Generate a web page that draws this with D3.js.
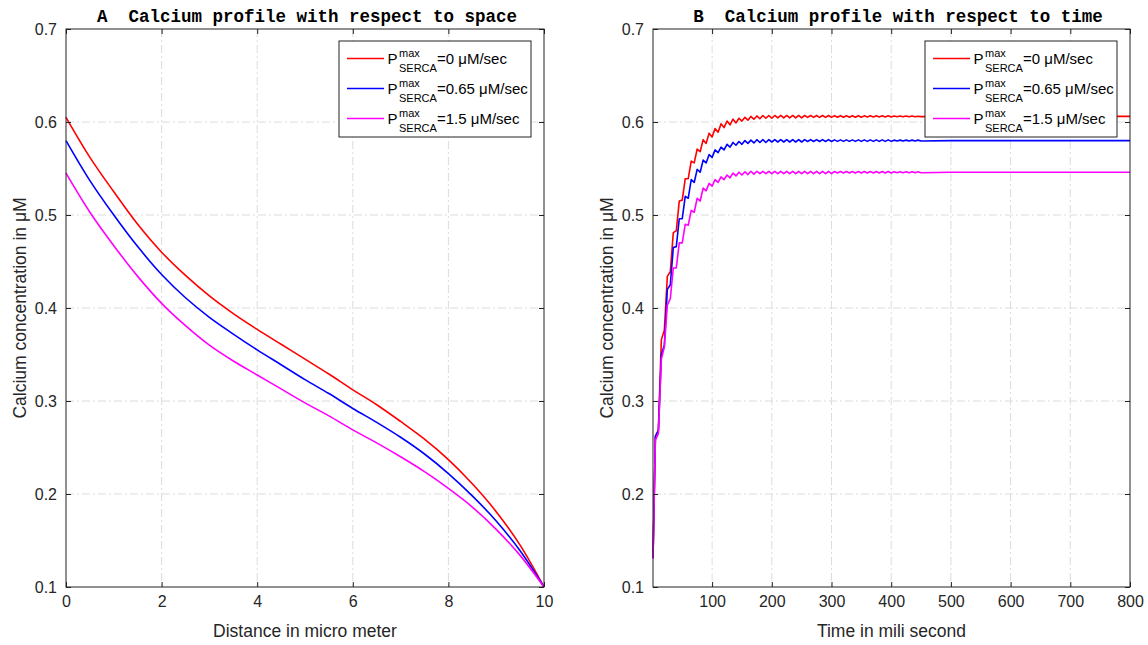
<!DOCTYPE html>
<html>
<head>
<meta charset="utf-8">
<script src="https://cdn.jsdelivr.net/npm/d3@7"></script>
<style>
  body { margin: 0; background: #fff; }
</style>
</head>
<body>
<script>
// ---- panel A: calcium vs distance ----
var distA = [0, 0.5, 1, 1.5, 2, 2.5, 3, 3.5, 4, 4.5, 5, 5.5, 6, 6.5, 7, 7.5, 8, 8.5, 9, 9.5, 10];
var redA = [0.605, 0.562, 0.525, 0.490, 0.460, 0.435, 0.413, 0.394, 0.377, 0.361, 0.345,
            0.329, 0.312, 0.296, 0.278, 0.259, 0.237, 0.211, 0.181, 0.145, 0.100];
var blueA = [0.580, 0.537, 0.500, 0.466, 0.436, 0.411, 0.390, 0.372, 0.355, 0.339, 0.323,
             0.308, 0.292, 0.277, 0.261, 0.243, 0.222, 0.198, 0.171, 0.139, 0.100];
var magentaA = [0.545, 0.503, 0.467, 0.434, 0.405, 0.381, 0.360, 0.343, 0.328, 0.313, 0.298,
                0.284, 0.269, 0.255, 0.240, 0.224, 0.206, 0.186, 0.162, 0.134, 0.100];

// ---- panel B: calcium vs time ----
var timeB = [1,
  5, 10, 15, 20, 25, 30, 35, 40, 45, 50,
  55, 60, 65, 70, 75, 80, 85, 90, 95, 100,
  105, 110, 115, 120, 125, 130, 135, 140, 145, 150,
  155, 160, 165, 170, 175, 180, 185, 190, 195, 200,
  205, 210, 215, 220, 225, 230, 235, 240, 245, 250,
  255, 260, 265, 270, 275, 280, 285, 290, 295, 300,
  305, 310, 315, 320, 325, 330, 335, 340, 345, 350,
  355, 360, 365, 370, 375, 380, 385, 390, 395, 400,
  405, 410, 415, 420, 425, 430, 435, 440, 445, 450,
  500, 600, 700, 800];
var redB = [0.131,
  0.262, 0.269, 0.366, 0.376, 0.434, 0.439, 0.481, 0.483, 0.515, 0.516,
  0.539, 0.539, 0.558, 0.556, 0.571, 0.568, 0.581, 0.577, 0.588, 0.584,
  0.593, 0.589, 0.598, 0.594, 0.601, 0.597, 0.603, 0.599, 0.604, 0.601,
  0.605, 0.602, 0.606, 0.603, 0.6065, 0.6035, 0.607, 0.604, 0.607, 0.604,
  0.607, 0.6045, 0.607, 0.6045, 0.607, 0.6045, 0.607, 0.6045, 0.607, 0.6045,
  0.607, 0.605, 0.607, 0.605, 0.607, 0.605, 0.607, 0.605, 0.607, 0.605,
  0.6068, 0.6052, 0.6068, 0.6052, 0.6068, 0.6052, 0.6068, 0.6052, 0.6068, 0.6052,
  0.6066, 0.6054, 0.6066, 0.6054, 0.6066, 0.6054, 0.6066, 0.6054, 0.6066, 0.6054,
  0.6064, 0.6056, 0.6064, 0.6056, 0.6064, 0.6056, 0.6064, 0.6056, 0.6062, 0.6058,
  0.606, 0.606, 0.606, 0.606];
var blueB = [0.131,
  0.262, 0.268, 0.350, 0.360, 0.420, 0.425, 0.465, 0.466, 0.496, 0.496,
  0.520, 0.518, 0.538, 0.535, 0.549, 0.546, 0.559, 0.556, 0.565, 0.562,
  0.570, 0.567, 0.573, 0.570, 0.576, 0.573, 0.578, 0.575, 0.579, 0.576,
  0.580, 0.577, 0.5805, 0.5775, 0.581, 0.578, 0.581, 0.578, 0.581, 0.5785,
  0.581, 0.5785, 0.581, 0.5785, 0.581, 0.5785, 0.581, 0.5785, 0.581, 0.5785,
  0.581, 0.579, 0.581, 0.579, 0.581, 0.579, 0.581, 0.579, 0.581, 0.579,
  0.5808, 0.5792, 0.5808, 0.5792, 0.5808, 0.5792, 0.5808, 0.5792, 0.5808, 0.5792,
  0.5808, 0.5792, 0.5808, 0.5792, 0.5808, 0.5792, 0.5808, 0.5792, 0.5808, 0.5792,
  0.5805, 0.5795, 0.5805, 0.5795, 0.5805, 0.5795, 0.5805, 0.5795, 0.5805, 0.5795,
  0.580, 0.580, 0.580, 0.580];
var magentaB = [0.131,
  0.258, 0.265, 0.345, 0.358, 0.403, 0.410, 0.443, 0.443, 0.470, 0.470,
  0.490, 0.489, 0.505, 0.503, 0.518, 0.515, 0.529, 0.526, 0.534, 0.531,
  0.538, 0.535, 0.541, 0.538, 0.543, 0.540, 0.545, 0.542, 0.546, 0.543,
  0.5465, 0.5435, 0.547, 0.544, 0.547, 0.5445, 0.547, 0.5445, 0.547, 0.5445,
  0.547, 0.5445, 0.547, 0.5445, 0.547, 0.5445, 0.547, 0.5445, 0.547, 0.5445,
  0.547, 0.5445, 0.547, 0.5445, 0.547, 0.5445, 0.547, 0.5445, 0.547, 0.5445,
  0.5468, 0.5452, 0.5468, 0.5452, 0.5468, 0.5452, 0.5468, 0.5452, 0.5468, 0.5452,
  0.5468, 0.5452, 0.5468, 0.5452, 0.5468, 0.5452, 0.5468, 0.5452, 0.5468, 0.5452,
  0.5465, 0.5455, 0.5465, 0.5455, 0.5465, 0.5455, 0.5465, 0.5455, 0.5465, 0.5455,
  0.546, 0.546, 0.546, 0.546];

var legendValues = ["=0 \u03bcM/sec", "=0.65 \u03bcM/sec", "=1.5 \u03bcM/sec"];
var colors = ["#ff0000", "#0000ff", "#ff00ff"];
var yTicks = [0.1, 0.2, 0.3, 0.4, 0.5, 0.6, 0.7];

var width = 1148, height = 645;
var plotTop = 29, plotBottom = 587;

var svg = d3.select("body").append("svg")
    .attr("width", width)
    .attr("height", height)
    .style("font-family", "'Liberation Sans', Arial, sans-serif");

function drawPanel(p) {
  var x = d3.scaleLinear().domain(p.xDomain).range([p.left, p.right]);
  var y = d3.scaleLinear().domain([0.1, 0.7]).range([plotBottom, plotTop]);
  var g = svg.append("g");

  // dash-dot grid
  g.selectAll(".gx")
    .data(p.xTicks.filter(function(t) { return t > p.xDomain[0] && t < p.xDomain[1]; }))
    .enter().append("line")
      .attr("x1", function(d) { return x(d); })
      .attr("x2", function(d) { return x(d); })
      .attr("y1", plotTop).attr("y2", plotBottom)
      .attr("stroke", "#dcdcdc")
      .attr("stroke-dasharray", "8,3,2,3");
  g.selectAll(".gy")
    .data(yTicks.slice(1, -1))
    .enter().append("line")
      .attr("x1", p.left).attr("x2", p.right)
      .attr("y1", function(d) { return y(d); })
      .attr("y2", function(d) { return y(d); })
      .attr("stroke", "#dcdcdc")
      .attr("stroke-dasharray", "8,3,2,3");

  // curves
  var line = d3.line()
      .x(function(d) { return x(d[0]); })
      .y(function(d) { return y(d[1]); })
      .curve(p.curve);
  p.series.forEach(function(s, i) {
    g.append("path")
      .datum(p.xs.map(function(v, j) { return [v, s[j]]; }))
      .attr("d", line)
      .attr("fill", "none")
      .attr("stroke", colors[i])
      .attr("stroke-width", 1.6)
      .attr("stroke-linejoin", "round");
  });

  // axes, ticks inward on all four sides
  var ax = function(gen, tx, ty, fmt, ticks, pad) {
    var a = gen.tickValues(ticks).tickSize(-5).tickPadding(pad).tickFormat(fmt);
    var sel = g.append("g").attr("transform", "translate(" + tx + "," + ty + ")").call(a);
    sel.select(".domain").remove();
    sel.selectAll("line").attr("stroke", "#222");
    sel.selectAll("text").attr("fill", "#262626").style("font-size", "16px")
      .style("font-family", "'Liberation Sans', Arial, sans-serif");
    return sel;
  };
  ax(d3.axisBottom(x), 0, plotBottom, d3.format("d"), p.xTicks, 9);
  ax(d3.axisTop(x), 0, plotTop, "", p.xTicks, 0);
  ax(d3.axisLeft(y), p.left, 0, d3.format(".1f"), yTicks, 9);
  ax(d3.axisRight(y), p.right, 0, "", yTicks, 0);

  g.append("rect")
    .attr("x", p.left).attr("y", plotTop)
    .attr("width", p.right - p.left).attr("height", plotBottom - plotTop)
    .attr("fill", "none").attr("stroke", "#222").attr("stroke-width", 1);

  // title
  g.append("text")
    .attr("x", p.titleX).attr("y", 22)
    .attr("text-anchor", "middle")
    .style("font-family", "'Liberation Mono', 'Courier New', monospace")
    .style("font-weight", "bold")
    .style("font-size", "17.5px")
    .style("white-space", "pre")
    .attr("fill", "#000")
    .text(p.title);

  // axis labels
  g.append("text")
    .attr("x", (p.left + p.right) / 2).attr("y", 637)
    .attr("text-anchor", "middle")
    .style("font-size", "17.5px")
    .attr("fill", "#262626")
    .text(p.xLabel);
  g.append("text")
    .attr("transform", "translate(" + (p.left - 40) + "," + ((plotTop + plotBottom) / 2) + ") rotate(-90)")
    .attr("text-anchor", "middle")
    .style("font-size", "17.5px")
    .attr("fill", "#262626")
    .text("Calcium concentration in \u03bcM");

  // legend
  var lx = p.right - 205, ly = 41;
  var leg = g.append("g").attr("transform", "translate(" + lx + "," + ly + ")");
  leg.append("rect")
    .attr("width", 192).attr("height", 96)
    .attr("fill", "#fff").attr("stroke", "#222").attr("stroke-width", 1);
  legendValues.forEach(function(v, i) {
    var cy = 17.5 + i * 30;
    var row = leg.append("g").attr("transform", "translate(0," + cy + ")");
    row.append("line")
      .attr("x1", 8).attr("x2", 45)
      .attr("stroke", colors[i]).attr("stroke-width", 1.6);
    row.append("text").attr("x", 48.5).attr("y", 5.5)
      .style("font-size", "15px").attr("fill", "#000").text("P");
    row.append("text").attr("x", 60).attr("y", -2)
      .style("font-size", "11px").attr("fill", "#000").text("max");
    row.append("text").attr("x", 60).attr("y", 13.5)
      .style("font-size", "11px").attr("fill", "#000").text("SERCA");
    row.append("text").attr("x", 98).attr("y", 5.5)
      .style("font-size", "15px").attr("fill", "#000").text(v);
  });
}

drawPanel({
  left: 66, right: 544,
  xDomain: [0, 10],
  xTicks: [0, 2, 4, 6, 8, 10],
  xs: distA,
  series: [redA, blueA, magentaA],
  curve: d3.curveCatmullRom.alpha(0.5),
  title: "A  Calcium profile with respect to space",
  titleX: 307,
  xLabel: "Distance in micro meter"
});

drawPanel({
  left: 653, right: 1130,
  xDomain: [1, 800],
  xTicks: [100, 200, 300, 400, 500, 600, 700, 800],
  xs: timeB,
  series: [redB, blueB, magentaB],
  curve: d3.curveLinear,
  title: "B  Calcium profile with respect to time",
  titleX: 898,
  xLabel: "Time in mili second"
});
</script>
</body>
</html>
